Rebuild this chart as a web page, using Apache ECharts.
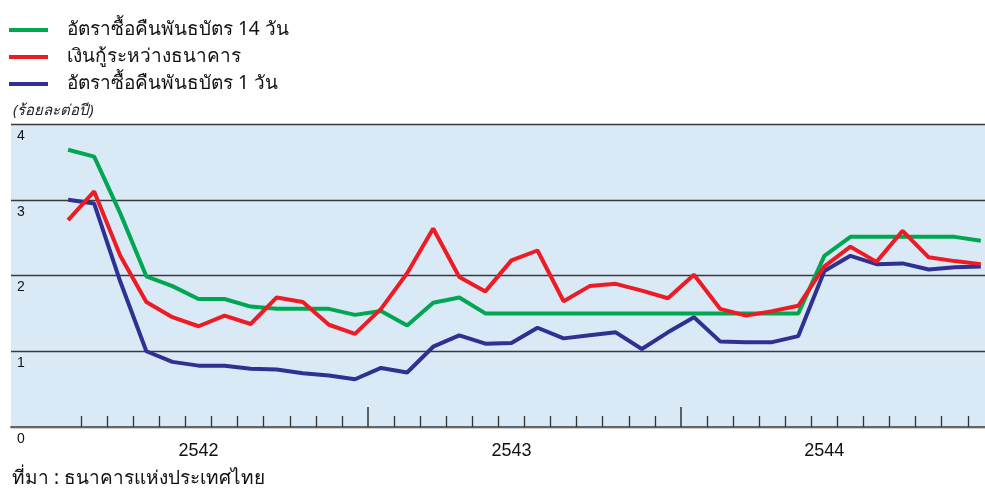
<!DOCTYPE html>
<html lang="th" style="height: 100%">
<head>
  <meta charset="utf-8">
</head>
<body style="height: 100%; margin: 0">
  <div id="container" style="width: 985px; height: 494px"></div>

  <script type="text/javascript" src="https://fastly.jsdelivr.net/npm/echarts@6.0.0/dist/echarts.min.js"></script>
  <script type="text/javascript">
    // monthly data, ม.ค. 2542 - ธ.ค. 2544 (36 months)
    var years = ['2542', '2543', '2544'];
    var repo14 = [3.66, 3.57, 2.82, 1.99, 1.86, 1.69, 1.69, 1.59, 1.56, 1.56, 1.56, 1.48,
                  1.53, 1.34, 1.64, 1.71, 1.50, 1.50, 1.50, 1.50, 1.50, 1.50, 1.50, 1.50,
                  1.50, 1.50, 1.50, 1.50, 1.50, 2.26, 2.51, 2.51, 2.51, 2.51, 2.51, 2.46];
    var interbank = [2.73, 3.11, 2.26, 1.65, 1.45, 1.33, 1.47, 1.36, 1.71, 1.65, 1.35, 1.23,
                     1.56, 2.03, 2.62, 1.98, 1.79, 2.20, 2.33, 1.66, 1.86, 1.89, 1.80, 1.70,
                     2.01, 1.56, 1.47, 1.53, 1.60, 2.12, 2.38, 2.18, 2.59, 2.24, 2.19, 2.15];
    var repo1 = [3.00, 2.95, 1.92, 1.00, 0.86, 0.81, 0.81, 0.77, 0.76, 0.71, 0.68, 0.63,
                 0.78, 0.72, 1.06, 1.21, 1.10, 1.11, 1.31, 1.17, 1.21, 1.25, 1.03, 1.25,
                 1.45, 1.13, 1.12, 1.12, 1.20, 2.06, 2.26, 2.15, 2.16, 2.08, 2.11, 2.12];
    var yTicks = [0, 1, 2, 3, 4];

    var names = ['อัตราซื้อคืนพันธบัตร 14 วัน', 'เงินกู้ระหว่างธนาคาร', 'อัตราซื้อคืนพันธบัตร 1 วัน'];
    var thaiFont = '"Noto Sans", "DejaVu Sans", sans-serif';

    function pairs(arr) {
      return arr.map(function (v, i) { return [i, v]; });
    }

    // month boundaries -> short ticks, year boundaries -> long ticks
    var monthTicks = [], yearTicks = [], yearLabelPos = [];
    for (var i = 0; i < repo14.length - 1; i++) {
      if ((i + 1) % 12 === 0) yearTicks.push(i + 0.5);
      else monthTicks.push(i + 0.5);
    }
    years.forEach(function (y, k) { yearLabelPos.push(k * 12 + 5); });

    var dom = document.getElementById('container');
    var myChart = echarts.init(dom, null, { renderer: 'canvas' });

    var option = {
      animation: false,
      graphic: [
        {
          type: 'text', left: 13, top: 103,
          style: { text: '(ร้อยละต่อปี)', fontSize: 15, fontStyle: 'italic', fontFamily: thaiFont, fill: '#222' }
        },
        {
          type: 'text', left: 12, top: 469,
          style: { text: 'ที่มา : ธนาคารแห่งประเทศไทย', fontSize: 19, fontFamily: thaiFont, fill: '#111' }
        }
      ],
      legend: {
        orient: 'vertical',
        left: 9,
        top: 19,
        padding: 0,
        itemWidth: 39,
        itemHeight: 4,
        itemGap: 5,
        icon: 'rect',
        data: names,
        textStyle: { fontSize: 19, lineHeight: 22, fontFamily: thaiFont, color: '#111', padding: [0, 0, 0, 14] }
      },
      grid: {
        left: 11,
        right: 0,
        top: 124,
        bottom: 67,
        show: true,
        backgroundColor: '#DAE9F6',
        borderWidth: 0
      },
      xAxis: [
        {
          type: 'value',
          min: -2.19,
          max: 35.16,
          splitLine: { show: false },
          axisLine: { show: true, onZero: false, lineStyle: { color: '#666', width: 2 } },
          axisTick: { show: true, inside: true, length: 11, customValues: monthTicks, lineStyle: { color: '#333', width: 1.3 } },
          axisLabel: {
            customValues: yearLabelPos,
            margin: 15,
            fontSize: 18,
            fontFamily: 'Liberation Sans, Arial, sans-serif',
            color: '#111',
            formatter: function (v) { return years[(v - 5) / 12]; }
          }
        },
        {
          type: 'value',
          position: 'bottom',
          min: -2.19,
          max: 35.16,
          splitLine: { show: false },
          axisLine: { show: false },
          axisTick: { show: true, inside: true, length: 20, customValues: yearTicks, lineStyle: { color: '#333', width: 1.5 } },
          axisLabel: { show: false }
        }
      ],
      yAxis: {
        type: 'value',
        min: 0,
        max: 4,
        interval: 1,
        axisLine: { show: false },
        axisTick: { show: false },
        splitLine: { lineStyle: { color: '#3a3a3a', width: 1.3 } },
        axisLabel: {
          inside: true,
          margin: 6,
          verticalAlign: 'top',
          padding: [5, 0, 0, 0],
          fontSize: 14,
          fontFamily: 'Liberation Sans, Arial, sans-serif',
          color: '#111',
          customValues: yTicks
        }
      },
      series: [
        {
          name: names[0], type: 'line', data: pairs(repo14), showSymbol: false, symbol: 'none',
          itemStyle: { color: '#00A651' }, lineStyle: { color: '#00A651', width: 4 }
        },
        {
          name: names[2], type: 'line', data: pairs(repo1), showSymbol: false, symbol: 'none',
          itemStyle: { color: '#2E3192' }, lineStyle: { color: '#2E3192', width: 4 }
        },
        {
          name: names[1], type: 'line', data: pairs(interbank), showSymbol: false, symbol: 'none',
          itemStyle: { color: '#ED1C24' }, lineStyle: { color: '#ED1C24', width: 4 }
        }
      ]
    };

    myChart.setOption(option);
    window.addEventListener('resize', myChart.resize);
  </script>
</body>
</html>
